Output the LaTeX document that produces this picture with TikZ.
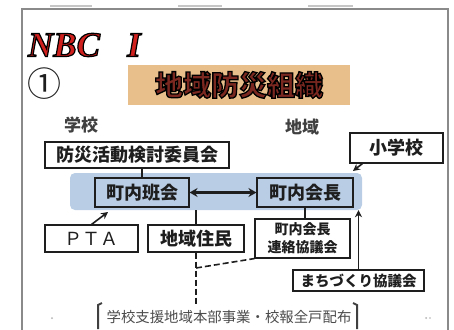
\documentclass[tikz,border=0pt]{standalone}
\usepackage{fontspec}
\setmainfont{Noto Sans CJK JP}
\newfontfamily\nbcfont{Liberation Serif}
\usetikzlibrary{arrows.meta,calc}
\definecolor{bandblue}{HTML}{B9CDE5}
\definecolor{tanbox}{HTML}{E8BE8A}
\definecolor{titlered}{HTML}{7A2820}
\definecolor{nbcred}{HTML}{D0201E}
\definecolor{frame}{HTML}{8A8A8A}
\definecolor{ink}{HTML}{1E1E1E}
\newcommand\outl[2]{\special{pdf:literal direct 2 Tr #1 w 0 0 0 RG}#2\special{pdf:literal direct 0 Tr}}
\tikzset{
  box/.style={draw=ink, line width=1.1pt, fill=white, inner sep=0pt, text=ink,
    font=\fontsize{18}{20}\selectfont\bfseries},
  bandbox/.style={box, fill=none},
  small/.style={font=\fontsize{14}{18}\selectfont\bfseries, align=center},
  conn/.style={draw=ink, line width=1.6pt},
  arr/.style={conn, -{Stealth[length=7pt,width=7pt]}},
  darr/.style={draw=ink, line width=2.2pt, {Stealth[length=8pt,width=9pt]}-{Stealth[length=8pt,width=9pt]}},
  dsh/.style={draw=ink, line width=1.6pt, dash pattern=on 6pt off 3pt},
}
\begin{document}
\begin{tikzpicture}[x=1pt,y=-1pt]
\useasboundingbox (0,0) rectangle (454,329);
\fill[white] (0,0) rectangle (454,329);
% faint marks above the frame
\foreach \a/\b in {50/92,178/222,308/353}
  \draw[gray!45, line width=1.2pt] (\a,6) -- (\b,6);
% frame
\draw[frame, line width=1.2pt] (22,335) -- (22,9) -- (448,9) -- (448,335);
% heading
\node[font=\nbcfont\bfseries\itshape\fontsize{35}{36}\selectfont, text=nbcred, inner sep=0] (nbc) at (64,45) {\outl{1.2}{NBC}};
\node[font=\nbcfont\bfseries\itshape\fontsize{35}{36}\selectfont, text=nbcred, inner sep=0] (roman) at (134,45) {\outl{1.2}{I}};
\node[font=\fontsize{34}{36}\selectfont, text=ink, inner sep=0] (num) at (44,84) {①};
\node[fill=tanbox, minimum width=222pt, minimum height=40pt, inner sep=0] (tbox) at (239,85) {};
\node[font=\fontsize{28}{30}\selectfont\bfseries, text=titlered, inner sep=0] (title) at (239,85) {\outl{1.3}{地域防災組織}};
% column heads
\node[font=\fontsize{17}{18}\selectfont\bfseries, text=ink!85] (gakko) at (81,125) {学校};
\node[font=\fontsize{17}{18}\selectfont\bfseries, text=ink!85] (chiiki) at (302,127) {地域};
% band
\node[fill=bandblue, rounded corners=5pt, minimum width=292pt, minimum height=37pt, inner sep=0] (band) at (216,191.5) {};
% boxes
\node[box, minimum width=184pt, minimum height=26pt] (iinkai) at (137,155) {防災活動検討委員会};
\node[bandbox, minimum width=94pt, minimum height=29pt] (hankai) at (142,192.5) {町内班会};
\node[bandbox, minimum width=96pt, minimum height=29pt] (kaicho) at (305,192.5) {町内会長};
\node[box, minimum width=93pt, minimum height=30pt] (shogakko) at (396.5,148) {小学校};
\node[box, minimum width=93pt, minimum height=27pt, font=\fontsize{18}{20}\selectfont] (pta) at (91.5,238.5) {ＰＴＡ};
\node[box, minimum width=96pt, minimum height=27pt] (jumin) at (196,238.5) {地域住民};
\node[box, small, minimum width=95pt, minimum height=39pt] (renraku) at (302.5,238.5) {町内会長\\連絡協議会};
\node[box, font=\fontsize{14.5}{16}\selectfont\bfseries, minimum width=131pt, minimum height=21pt] (machi) at (358.5,280.5) {まちづくり協議会};
% bottom text
\node[font=\fontsize{14.4}{16}\selectfont, text=ink!80, inner sep=0] (bottom) at (229,317) {学校支援地域本部事業・校報全戸配布};
\draw[ink!85, line width=2pt] (102,303) -- (98,305) -- (98,329);
\draw[ink!85, line width=2pt] (353,303) -- (357,305) -- (357,329);
\fill[gray!60] (52,318) circle (1pt);
\fill[gray!60] (426,318) circle (1pt) (430,318) circle (0.8pt);
% connectors
\draw[conn] (iinkai.south -| hankai.north) -- (hankai.north);
\draw[darr] (hankai.east) -- (kaicho.west);
\draw[conn] (kaicho.south) -- (kaicho.south |- renraku.north);
\draw[conn] (band.south -| jumin.north) -- (jumin.north);
\coordinate (dend) at (196,305);
\coordinate (dj) at (196,268);
\draw[dsh] (jumin.south) -- (dend);
\draw[dsh] (dj) -- (renraku.south west);
\draw[arr] (machi.north) -- (machi.north |- band.south);
\coordinate (sgs) at ($(shogakko.south west)+(13,0)$);
\coordinate (sge) at (353,171);
\draw[arr] (sgs) -- (sge);
\coordinate (ptae) at (108,212);
\draw[arr] (pta.north) -- (ptae);
\end{tikzpicture}
\end{document}
